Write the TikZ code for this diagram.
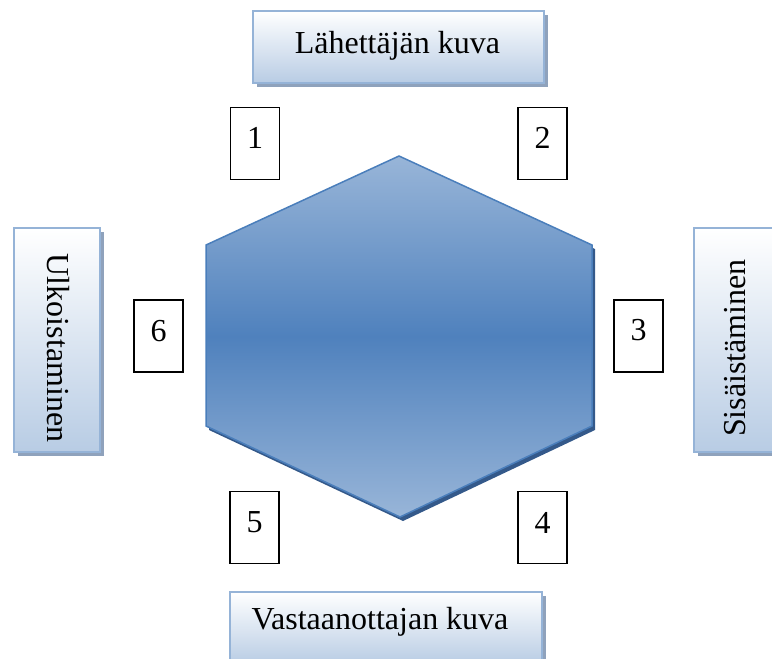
\documentclass[tikz,border=0pt]{standalone}
\usepackage{fontspec}
\setmainfont{Liberation Serif}
\usetikzlibrary{calc,shadows}

\definecolor{boxedge}{HTML}{95B3D7}
\definecolor{boxlow}{HTML}{B8CCE4}
\definecolor{boxshadow}{HTML}{8FA2BC}
\definecolor{hexlight}{HTML}{98B5D8}
\definecolor{hexmid}{HTML}{4F81BD}
\definecolor{hexedge}{HTML}{4A7EBB}
\definecolor{hexshadow}{HTML}{34598A}

\tikzset{
  stagebox/.style={draw=boxedge, line width=1.5pt, top color=white, bottom color=boxlow,
    inner sep=0pt, general shadow={fill=boxshadow, shadow xshift=4pt, shadow yshift=-4pt}},
  numbox/.style={draw=black, line width=1.5pt, fill=white, inner sep=0pt,
    minimum width=49pt, minimum height=72pt},
  label/.style={inner sep=0pt, font=\fontsize{32}{38}\selectfont},
}

\begin{document}
\begin{tikzpicture}[x=1pt, y=-1pt]
  \useasboundingbox (0,0) rectangle (772,659);
  \clip (0,0) rectangle (772,659);

  % central hexagon with its dark drop shadow
  \coordinate (h1) at (399,156);
  \coordinate (h2) at (592,245);
  \coordinate (h3) at (592,426);
  \coordinate (h4) at (400,517);
  \coordinate (h5) at (206,426);
  \coordinate (h6) at (206,245);
  \fill[hexshadow, transform canvas={xshift=3pt, yshift=-4pt}]
    (h1) -- (h2) -- (h3) -- (h4) -- (h5) -- (h6) -- cycle;
  \shade[top color=hexlight, bottom color=hexlight, middle color=hexmid, draw=hexedge, line width=1.5pt]
    (h1) -- (h2) -- (h3) -- (h4) -- (h5) -- (h6) -- cycle;

  % outer boxes
  \node[stagebox, minimum width=291pt, minimum height=72pt] (top) at (398.5,47) {};
  \node[label, anchor=base] (toptext) at (397.5,53) {Lähettäjän kuva};

  \node[stagebox, minimum width=312pt, minimum height=72pt] (bottom) at (386,628) {};
  \node[label, anchor=base] (bottomtext) at (380,629) {Vastaanottajan kuva};

  \node[stagebox, minimum width=86pt, minimum height=224pt] (left) at (57,340) {};
  \node[label, rotate=-90] (lefttext) at (58,348) {Ulkoistaminen};

  \node[stagebox, minimum width=86pt, minimum height=224pt] (right) at (737,340) {};
  \node[label, rotate=90] (righttext) at (735,348) {Sisäistäminen};

  % numbered boxes
  \node[numbox] (n1) at (255,143.5) {};
  \node[label] (d1) at ($(n1.north)+(0,31)$) {1};
  \node[numbox] (n2) at (542.5,143.5) {};
  \node[label] (d2) at ($(n2.north)+(0,31)$) {2};
  \node[numbox] (n3) at (638.5,336) {};
  \node[label] (d3) at ($(n3.north)+(0,31)$) {3};
  \node[numbox] (n4) at (542.5,527.5) {};
  \node[label] (d4) at ($(n4.north)+(0,32)$) {4};
  \node[numbox] (n5) at (254.5,527.5) {};
  \node[label] (d5) at ($(n5.north)+(0,31)$) {5};
  \node[numbox] (n6) at (158.5,336) {};
  \node[label] (d6) at ($(n6.north)+(0,32)$) {6};
\end{tikzpicture}
\end{document}
